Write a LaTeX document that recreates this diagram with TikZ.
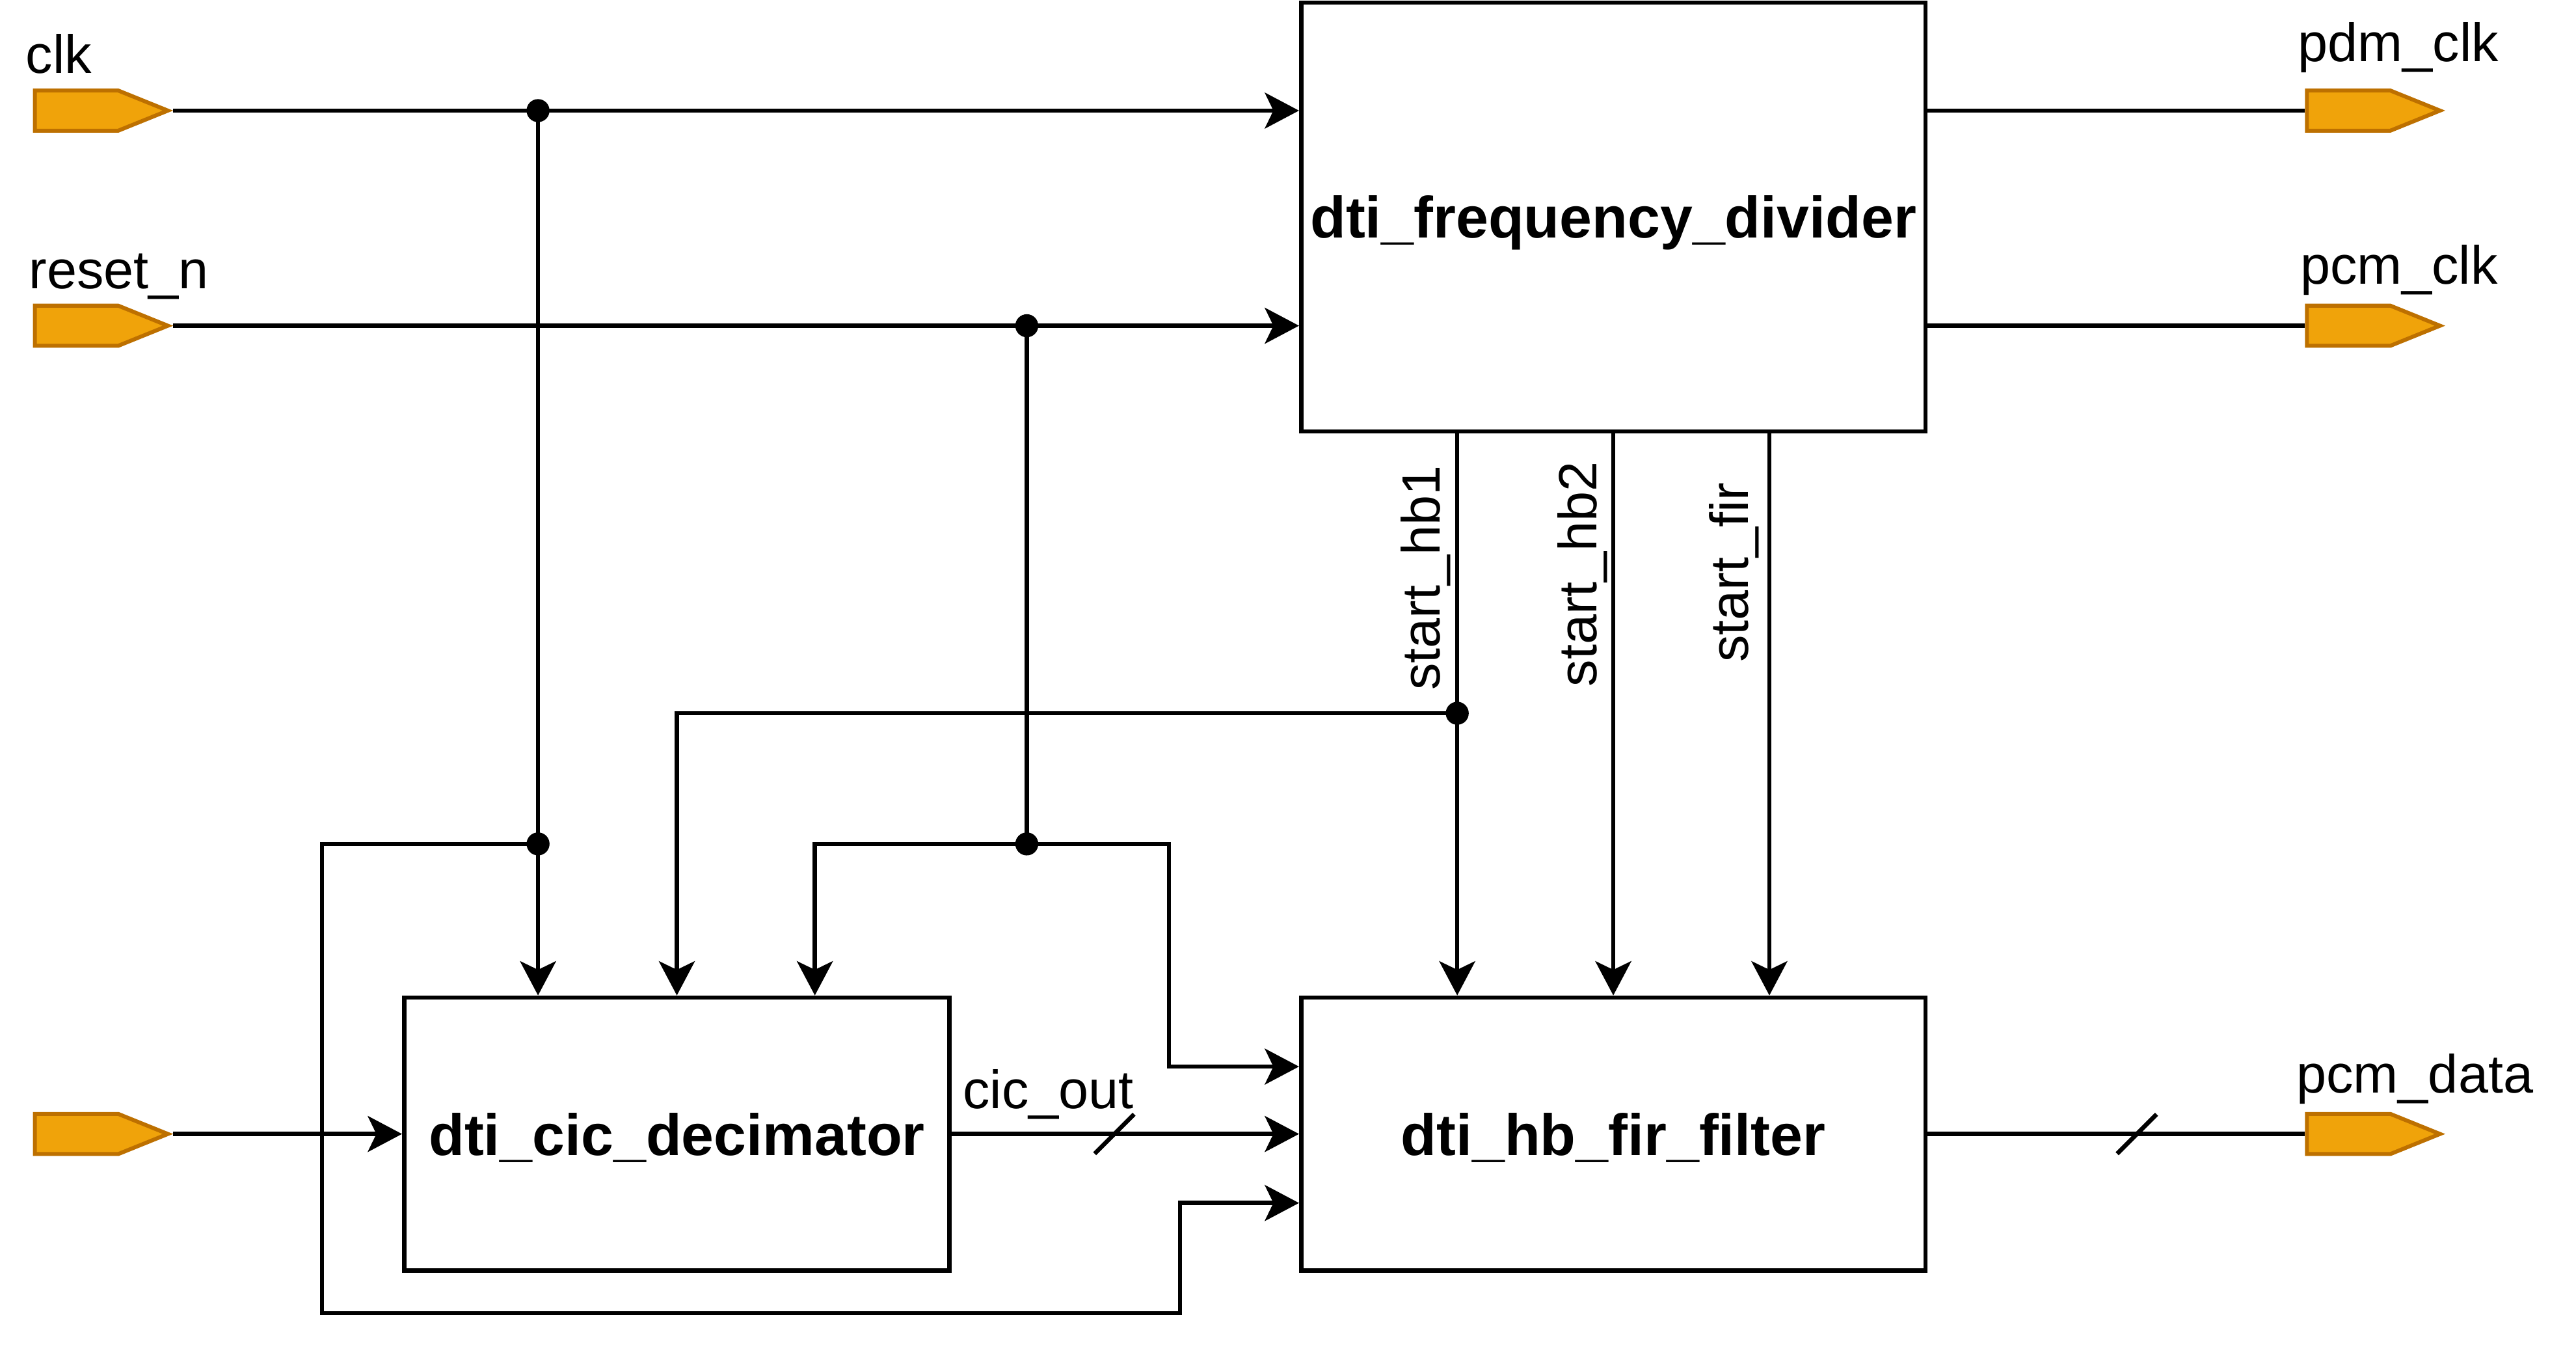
\documentclass[tikz,border=0pt]{standalone}
\usepackage{fontspec}
\setmainfont{Liberation Sans}
\usetikzlibrary{arrows.meta,shapes.symbols,calc}
\definecolor{portfill}{HTML}{F0A30A}
\definecolor{portdraw}{HTML}{BD7000}
\begin{document}
\begin{tikzpicture}[x=0.5pt,y=-0.5pt,
  wire/.style={line width=1.3pt, line join=miter},
  arr/.style={-{Stealth[length=10.4pt,width=10.9pt,inset=2.6pt]}},
  blk/.style={draw, line width=1.3pt, font=\fontsize{17.75pt}{21pt}\selectfont\bfseries, inner sep=0pt, text depth=0pt},
  port/.style={signal, signal to=east, signal from=nowhere, draw=portdraw, fill=portfill, line width=1.2pt,
    minimum width=40.5pt, minimum height=12.2pt, signal pointer angle=44, inner sep=0pt, anchor=west},
  lbl/.style={font=\fontsize{16.4pt}{19pt}\selectfont, inner sep=0pt}
]
\path[use as bounding box] (0,0) rectangle (1568,819.6);

% blocks
\node[blk, minimum width=190pt, minimum height=130.5pt] (fd) at (982,132) {dti\_frequency\_divider};
\node[blk, minimum width=166pt, minimum height=83pt] (cic) at (412,690) {dti\_cic\_decimator};
\node[blk, minimum width=190pt, minimum height=83pt] (hb) at (982,690) {dti\_hb\_fir\_filter};

% ports
\node[port] (clk) at (20,67.3) {};
\node[port] (rst) at (20,198.2) {};
\node[port] (din) at (20,690) {};
\node[port] (pdm) at (1403,67.3) {};
\node[port] (pcmc) at (1403,198.2) {};
\node[port] (pcmd) at (1403,690) {};

% labels
\node[lbl, anchor=base west] (lclk) at (15.3,44.7) {clk};
\node[lbl, anchor=base west] (lrst) at (17.3,175.5) {reset\_n};
\node[lbl, anchor=base west] (lpdm) at (1398.4,37.6) {pdm\_clk};
\node[lbl, anchor=base west] (lpcmc) at (1399.7,173) {pcm\_clk};
\node[lbl, anchor=base west] (lpcmd) at (1397.5,665) {pcm\_data};
\node[lbl, anchor=base west] (lcic) at (585.7,674.5) {cic\_out};
\node[lbl, anchor=base, rotate=90] (lhb1) at (876.5,351.7) {start\_hb1};
\node[lbl, anchor=base, rotate=90] (lhb2) at (972,349.4) {start\_hb2};
\node[lbl, anchor=base, rotate=90] (lfir) at (1064,348.4) {start\_fir};

% junctions
\coordinate (jclk) at (327.5,67.3);
\coordinate (jclk2) at (327.5,513.5);
\coordinate (jrst) at (625,198.2);
\coordinate (jrst2) at (625,513.5);
\coordinate (jhb1) at (887,434);
\coordinate (bus1) at (678.3,690);
\coordinate (bus2) at (1300.7,690);

% connectors
\draw[wire,arr] (clk.east) -- (clk.east -| fd.west);
\draw[wire,arr] (rst.east) -- (rst.east -| fd.west);
\draw[wire,arr] (jclk) -- (jclk |- cic.north);
\draw[wire,arr] (jclk2) -| (196,799) -| (718.3,732) -- ([yshift=-21pt]hb.west);
\draw[wire,arr] (jrst) -- (jrst2) -| ([xshift=42pt]cic.north);
\draw[wire,arr] (jrst2) -| (711.5,649) -- ([yshift=20.5pt]hb.west);
\draw[wire,arr] ([xshift=-47.5pt]fd.south) -- ([xshift=-47.5pt]hb.north);
\draw[wire,arr] (fd.south) -- (hb.north);
\draw[wire,arr] ([xshift=47.5pt]fd.south) -- ([xshift=47.5pt]hb.north);
\draw[wire,arr] (jhb1) -| (cic.north);
\draw[wire,arr] (din.east) -- (cic.west);
\draw[wire,arr] (cic.east) -- (hb.west);
\draw[wire] (pdm.west -| fd.east) -- (pdm.west);
\draw[wire] (pcmc.west -| fd.east) -- (pcmc.west);
\draw[wire] (hb.east) -- (pcmd.west);

% bus slashes
\draw[wire] ($(bus1)+(-12,12)$) -- ($(bus1)+(12,-12)$);
\draw[wire] ($(bus2)+(-12,12)$) -- ($(bus2)+(12,-12)$);

% junction dots
\foreach \j in {jclk,jclk2,jrst,jrst2,jhb1} \fill (\j) circle[radius=3.5pt];
\end{tikzpicture}
\end{document}
